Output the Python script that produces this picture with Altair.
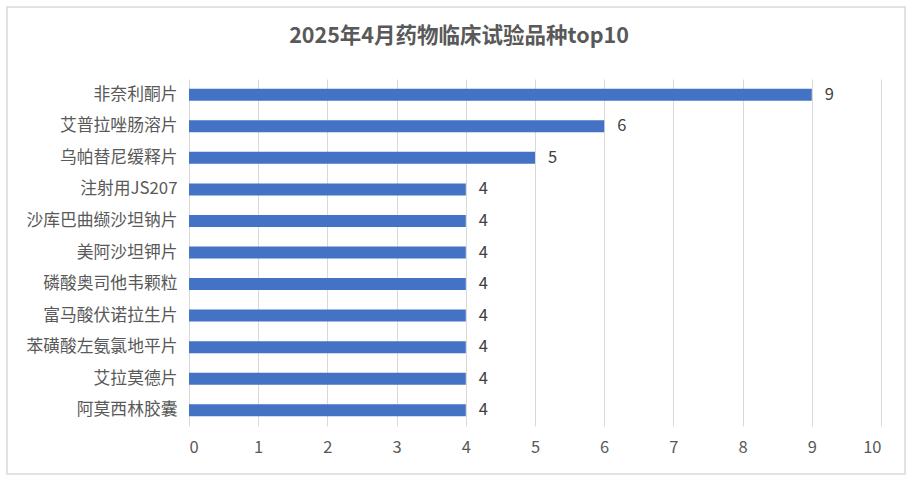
import altair as alt
import pandas as pd

drugs = ["非奈利酮片", "艾普拉唑肠溶片", "乌帕替尼缓释片", "注射用JS207", "沙库巴曲缬沙坦钠片",
         "美阿沙坦钾片", "磷酸奥司他韦颗粒", "富马酸伏诺拉生片", "苯磺酸左氨氯地平片", "艾拉莫德片", "阿莫西林胶囊"]
counts = [9, 6, 5, 4, 4, 4, 4, 4, 4, 4, 4]
x_ticks = [0, 1, 2, 3, 4, 5, 6, 7, 8, 9, 10]
title_text = "2025年4月药物临床试验品种top10"

df = pd.DataFrame({"drug": drugs, "count": counts})
FONT = "Noto Sans CJK SC"

base = alt.Chart(df).encode(
    y=alt.Y("drug:N", sort=drugs, title=None,
            scale=alt.Scale(paddingInner=0.62, paddingOuter=0.31),
            axis=alt.Axis(domain=False, ticks=False, grid=False, labelFont=FONT,
                          labelFontSize=16.8, labelColor="#595959", labelPadding=12)),
    x=alt.X("count:Q", title=None,
            scale=alt.Scale(domain=[0, 10], nice=False),
            axis=alt.Axis(values=x_ticks, domain=False, ticks=False, grid=True,
                          gridColor="#d9d9d9", labelFont=FONT, labelFontSize=16.5,
                          labelColor="#595959", labelPadding=13)),
)

bars = base.mark_bar(color="#4472C4")
labels = base.mark_text(align="left", dx=13, font=FONT, fontSize=16.5, color="#404040").encode(
    text="count:Q")

one = pd.DataFrame({"t": [title_text]})
border = alt.Chart(one).mark_rect(
    fill=None, stroke="#d9d9d9", strokeWidth=1.5).encode(
    x=alt.value(-182), x2=alt.value(716), y=alt.value(-72), y2=alt.value(395))

title = alt.Chart(one).mark_text(
    font=FONT, fontSize=21.5, fontWeight="bold", color="#595959",
    align="center", baseline="middle").encode(
    text="t:N", x=alt.value(270), y=alt.value(-42))

chart = alt.layer(border, bars, labels, title).properties(
    width=692, height=347,
    padding={"left": 189, "top": 79, "right": 31, "bottom": 53},
    autosize=alt.AutoSizeParams(type="none"),
    background="white",
).configure_view(strokeOpacity=0, strokeWidth=0)

chart.save("out.html", embed_options={"renderer": "svg", "actions": False})
